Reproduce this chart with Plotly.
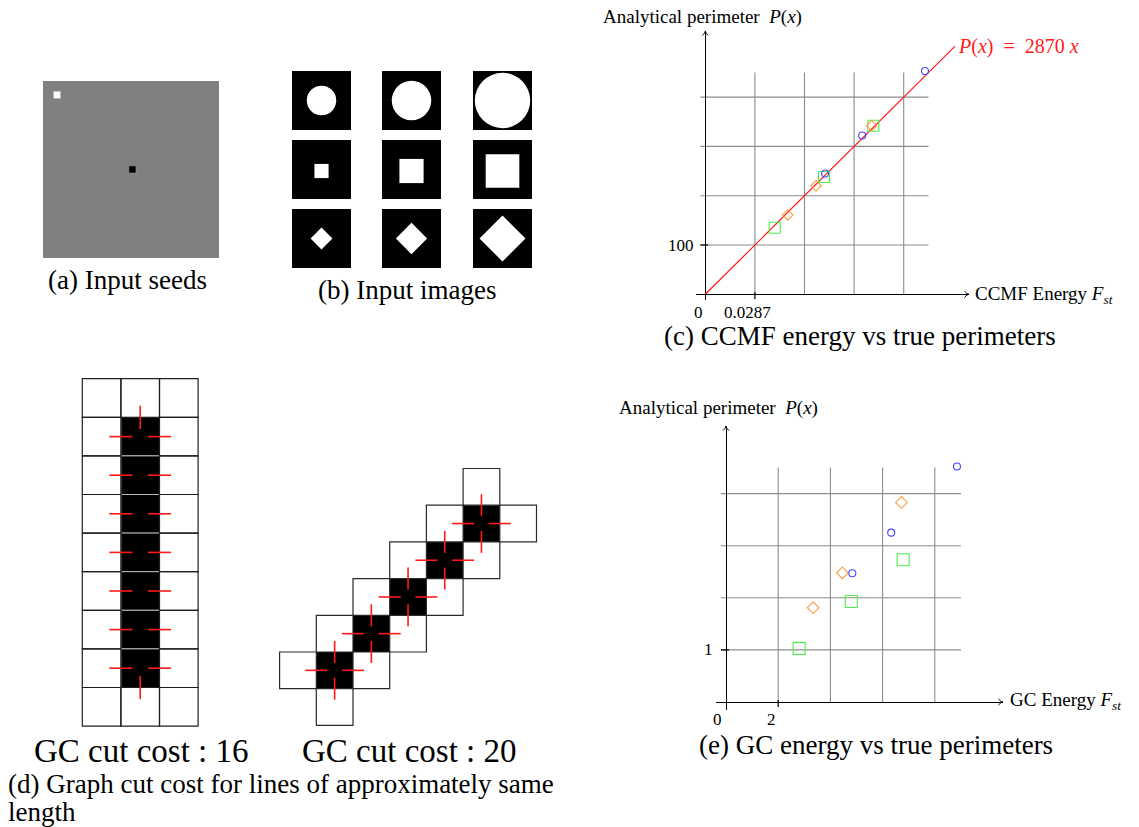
import plotly.graph_objects as go

W, H = 1139, 827
FONT = "Liberation Serif"

# ── data: (c) CCMF energy vs analytical perimeter ────────────────────────────
CCMF_CIRCLE_X = [0.0693, 0.0908, 0.1271]
CCMF_CIRCLE_Y = [245, 322, 453]
CCMF_SQUARE_X = [0.0402, 0.0687, 0.0972]
CCMF_SQUARE_Y = [135, 238, 342]
CCMF_DIAMOND_X = [0.0477, 0.0641, 0.0963]
CCMF_DIAMOND_Y = [161, 220, 342]
CCMF_FIT_X = [0, 0.1444]
CCMF_FIT_Y = [0, 503]
CCMF_XSTEP, CCMF_YSTEP = 0.0287, 100
CCMF_TICKS = ["0", "0.0287", "100"]

# ── data: (e) GC energy vs analytical perimeter ──────────────────────────────
GC_CIRCLE_X = [4.84, 6.33, 8.85]
GC_CIRCLE_Y = [2.47, 3.25, 4.52]
GC_SQUARE_X = [2.80, 4.80, 6.79]
GC_SQUARE_Y = [1.03, 1.93, 2.73]
GC_DIAMOND_X = [3.34, 4.46, 6.72]
GC_DIAMOND_Y = [1.81, 2.48, 3.83]
GC_XSTEP, GC_YSTEP = 2, 1
GC_TICKS = ["0", "2", "1"]

# ── data: (a) seeds, (b) test shapes, (d) cut examples ──────────────────────
SEED_POS = [(0.059, 0.058), (0.487, 0.479)]   # fraction of image, top-left
SEED_COLOR = ["#ffffff", "#000000"]
IMG_CIRCLE_DIAM = [0.50, 0.67, 0.94]           # fraction of tile
IMG_SQUARE_SIDE = [0.24, 0.41, 0.57]
IMG_DIAMOND_DIAG = [0.37, 0.53, 0.78]
VLINE_GRID = (3, 9)                            # cols, rows
VLINE_BLACK = [(1, r) for r in [1, 2, 3, 4, 5, 6, 7]]
DIAG_BLACK = [(0, 0), (1, 1), (2, 2), (3, 3), (4, 4)]
CUT_COST = [16, 20]

BLUE, GREEN, ORANGE, RED = "#4646ff", "#4ced4c", "#ff9a3c", "#ff1a1a"
GRID = "#8c8c8c"

fig = go.Figure()
shapes = []


def rect(x0, y0, x1, y1, fill=None, line="black", width=1, ref=("x", "y")):
    shapes.append(dict(type="rect", xref=ref[0], yref=ref[1], x0=x0, y0=y0, x1=x1, y1=y1,
                       fillcolor=fill, line=dict(color=line, width=width), layer="above"))


def seg(x0, y0, x1, y1, color="black", width=1, ref=("x", "y"), layer="above"):
    shapes.append(dict(type="line", xref=ref[0], yref=ref[1], x0=x0, y0=y0, x1=x1, y1=y1,
                       line=dict(color=color, width=width), layer=layer))


def label(text, x, y, size, anchor="center", color="black"):
    fig.add_annotation(x=x, y=y, xref="x", yref="y", text=text, showarrow=False,
                       xanchor=anchor, yanchor="middle", borderpad=0,
                       font=dict(family=FONT, size=size, color=color))


# pixel overlay for illustrations and text
fig.add_trace(go.Scatter(x=[0], y=[0], mode="markers", marker=dict(opacity=0),
                         hoverinfo="skip", xaxis="x", yaxis="y"))

# ── (a) input seeds ──────────────────────────────────────────────────────────
ax0, ay0, aw, ah = 43, 81, 176, 177
rect(ax0, ay0, ax0 + aw, ay0 + ah, fill="#808080", line="#808080", width=0)
for (fx, fy), c in zip(SEED_POS, SEED_COLOR):
    sx, sy = ax0 + fx * aw, ay0 + fy * ah
    rect(sx, sy, sx + 7.3, sy + 7.3, fill=c, line="#a0a0a0", width=0.6)
label("(a) Input seeds", 127.5, 280, 27)

# ── (b) input images ─────────────────────────────────────────────────────────
TX, TY, TS = [292, 382, 473], [71, 140, 209], 59
for i, x0 in enumerate(TX):
    for j, y0 in enumerate(TY):
        rect(x0, y0, x0 + TS, y0 + TS, fill="black", line="black", width=0)
        cx, cy = x0 + TS / 2, y0 + TS / 2
        if j == 0:
            r = IMG_CIRCLE_DIAM[i] * TS / 2
            shapes.append(dict(type="circle", xref="x", yref="y", x0=cx - r, x1=cx + r,
                               y0=cy - r, y1=cy + r, fillcolor="white",
                               line=dict(width=0), layer="above"))
        elif j == 1:
            h = IMG_SQUARE_SIDE[i] * TS / 2
            rect(cx - h, cy - h + 1.5, cx + h, cy + h + 1.5, fill="white", line="white", width=0)
        else:
            h = IMG_DIAMOND_DIAG[i] * TS / 2
            shapes.append(dict(type="path", xref="x", yref="y",
                               path=f"M {cx - h},{cy} L {cx},{cy - h} L {cx + h},{cy} L {cx},{cy + h} Z",
                               fillcolor="white", line=dict(width=0), layer="above"))
label("(b) Input images", 407, 290, 27)


# ── (d) graph cut cost ───────────────────────────────────────────────────────
def cut_marks(black, to_px, cell):
    bset = set(black)
    for (c, r) in black:
        for dc, dr in [(-1, 0), (1, 0), (0, -1), (0, 1)]:
            if (c + dc, r + dr) in bset:
                continue
            ex, ey = to_px(c + 0.5 + dc * 0.5, r + 0.5 + dr * 0.5)
            h = 0.3 * cell
            if dc:
                seg(ex - h, ey, ex + h, ey, color=RED, width=1.6)
            else:
                seg(ex, ey - h, ex, ey + h, color=RED, width=1.6)


# straight vertical line
LX, LY, LC = 82.3, 378.7, 38.6
ncol, nrow = VLINE_GRID
for (c, r) in VLINE_BLACK:
    rect(LX + c * LC, LY + r * LC, LX + (c + 1) * LC, LY + (r + 1) * LC,
         fill="black", line="#b8b8b8", width=1)
for c in range(ncol):
    for r in range(nrow):
        if (c, r) not in VLINE_BLACK:
            rect(LX + c * LC, LY + r * LC, LX + (c + 1) * LC, LY + (r + 1) * LC,
                 line="#1e1e1e", width=1.2)
cut_marks(VLINE_BLACK, lambda c, r: (LX + c * LC, LY + r * LC), LC)

# diagonal staircase (rows counted upward)
DX, DY, DC = 316.3, 652 + 36.7, 36.7
diag_px = lambda c, r: (DX + c * DC, DY - r * DC)
for (c, r) in DIAG_BLACK:
    x0, y0 = diag_px(c, r + 1)
    rect(x0, y0, x0 + DC, y0 + DC, fill="black", line="black", width=0)
white = set()
for (c, r) in DIAG_BLACK:
    for dc, dr in [(-1, 0), (1, 0), (0, -1), (0, 1)]:
        if (c + dc, r + dr) not in DIAG_BLACK:
            white.add((c + dc, r + dr))
for (c, r) in white:
    x0, y0 = diag_px(c, r + 1)
    rect(x0, y0, x0 + DC, y0 + DC, line="#2a2a2a", width=1.2)
cut_marks(DIAG_BLACK, lambda c, r: diag_px(c, r), DC)

label(f"GC cut cost : {CUT_COST[0]}", 141, 751, 33)
label(f"GC cut cost : {CUT_COST[1]}", 408.5, 751, 33)
label("(d) Graph cut cost for lines of approximately same", 7, 784, 27, anchor="left")
label("length", 7, 812, 27, anchor="left")


# ── scatter panels ───────────────────────────────────────────────────────────
def data_panel(n, origin, spx, step, box):
    ox, oy = origin
    l, t, r, b = box
    xs, ys = spx[0] / step[0], spx[1] / step[1]   # px per data unit
    common = dict(showgrid=False, showticklabels=False, ticks="", showline=False,
                  zeroline=True, zerolinecolor="black", zerolinewidth=1.3, fixedrange=True)
    fig.update_layout({
        f"xaxis{n}": dict(domain=[l / W, r / W], range=[(l - ox) / xs, (r - ox) / xs],
                          anchor=f"y{n}", **common),
        f"yaxis{n}": dict(domain=[1 - b / H, 1 - t / H], range=[(oy - b) / ys, (oy - t) / ys],
                          anchor=f"x{n}", **common),
    })
    ref = (f"x{n}", f"y{n}")
    # grid
    for k in range(1, 5):
        seg(k * step[0], 0, k * step[0], 4.5 * step[1], color=GRID, width=1.1, ref=ref, layer="below")
        seg(-0.1 * step[0], k * step[1], 4.5 * step[0], k * step[1], color=GRID, width=1.1, ref=ref,
            layer="below")
    # ticks
    seg(ox + spx[0], oy - 2, ox + spx[0], oy + 5, width=1.2)
    seg(ox - 5, oy - spx[1], ox + 3, oy - spx[1], width=1.2)
    # arrow heads
    shapes.append(dict(type="path", xref="x", yref="y",
                       path=f"M {ox - 3},{t + 4.5} Q {ox},{t + 2} {ox},{t} Q {ox},{t + 2} {ox + 3},{t + 4.5}",
                       line=dict(color="black", width=1)))
    shapes.append(dict(type="path", xref="x", yref="y",
                       path=f"M {r - 4.5},{oy - 3} Q {r - 2},{oy} {r},{oy} Q {r - 2},{oy} {r - 4.5},{oy + 3}",
                       line=dict(color="black", width=1)))
    return f"x{n}", f"y{n}"


def markers(xa, ya, x, y, symbol, size, color):
    fig.add_trace(go.Scatter(x=x, y=y, mode="markers", xaxis=xa, yaxis=ya, cliponaxis=False,
                             marker=dict(symbol=symbol, size=size, color=color,
                                         line=dict(color=color, width=1.1)),
                             hoverinfo="skip"))


NB = "\u00a0"

# (c)
xa, ya = data_panel(2, (705.3, 294.3), (49.6, 49.3), (CCMF_XSTEP, CCMF_YSTEP), (695.7, 31, 969, 300))
fig.add_trace(go.Scatter(x=CCMF_FIT_X, y=CCMF_FIT_Y, mode="lines", xaxis=xa, yaxis=ya,
                         line=dict(color=RED, width=1.2), hoverinfo="skip"))
markers(xa, ya, CCMF_SQUARE_X, CCMF_SQUARE_Y, "square-open", 11, GREEN)
markers(xa, ya, CCMF_DIAMOND_X, CCMF_DIAMOND_Y, "diamond-open", 8, ORANGE)
markers(xa, ya, CCMF_CIRCLE_X, CCMF_CIRCLE_Y, "circle-open", 7, BLUE)
label(f"Analytical perimeter{NB}{NB}<i>P</i>(<i>x</i>)", 602, 17, 19, anchor="left")
label("CCMF Energy <i>F</i><sub><i>st</i></sub>", 974, 295, 19, anchor="left")
label(f"<i>P</i>(<i>x</i>){NB}{NB}={NB}{NB}2870{NB}<i>x</i>", 957, 46, 20, anchor="left", color=RED)
label(CCMF_TICKS[0], 698, 312, 17)
label(CCMF_TICKS[1], 747, 312, 17)
label(CCMF_TICKS[2], 695, 245.3, 17, anchor="right")
label("(c) CCMF energy vs true perimeters", 859.5, 336, 27)

# (e)
xa, ya = data_panel(3, (726, 702), (52.2, 52.1), (GC_XSTEP, GC_YSTEP), (716, 426, 1003, 710))
markers(xa, ya, GC_SQUARE_X, GC_SQUARE_Y, "square-open", 12, GREEN)
markers(xa, ya, GC_DIAMOND_X, GC_DIAMOND_Y, "diamond-open", 9, ORANGE)
markers(xa, ya, GC_CIRCLE_X, GC_CIRCLE_Y, "circle-open", 7, BLUE)
label(f"Analytical perimeter{NB}{NB}<i>P</i>(<i>x</i>)", 618, 408, 19, anchor="left")
label("GC Energy <i>F</i><sub><i>st</i></sub>", 1009, 701, 19, anchor="left")
label(GC_TICKS[0], 717, 719, 17)
label(GC_TICKS[1], 771, 719, 17)
label(GC_TICKS[2], 714, 649.7, 17, anchor="right")
label("(e) GC energy vs true perimeters", 875.5, 745, 27)

fig.update_layout(
    width=W, height=H,
    margin=dict(l=0, r=0, t=0, b=0),
    paper_bgcolor="white", plot_bgcolor="rgba(0,0,0,0)",
    showlegend=False,
    xaxis=dict(domain=[0, 1], range=[0, W], visible=False, fixedrange=True),
    yaxis=dict(domain=[0, 1], range=[H, 0], visible=False, fixedrange=True),
    shapes=shapes,
    font=dict(family=FONT),
)

fig.write_html("out.html", config={"displayModeBar": False},
               post_script="document.body.style.margin='0';")
